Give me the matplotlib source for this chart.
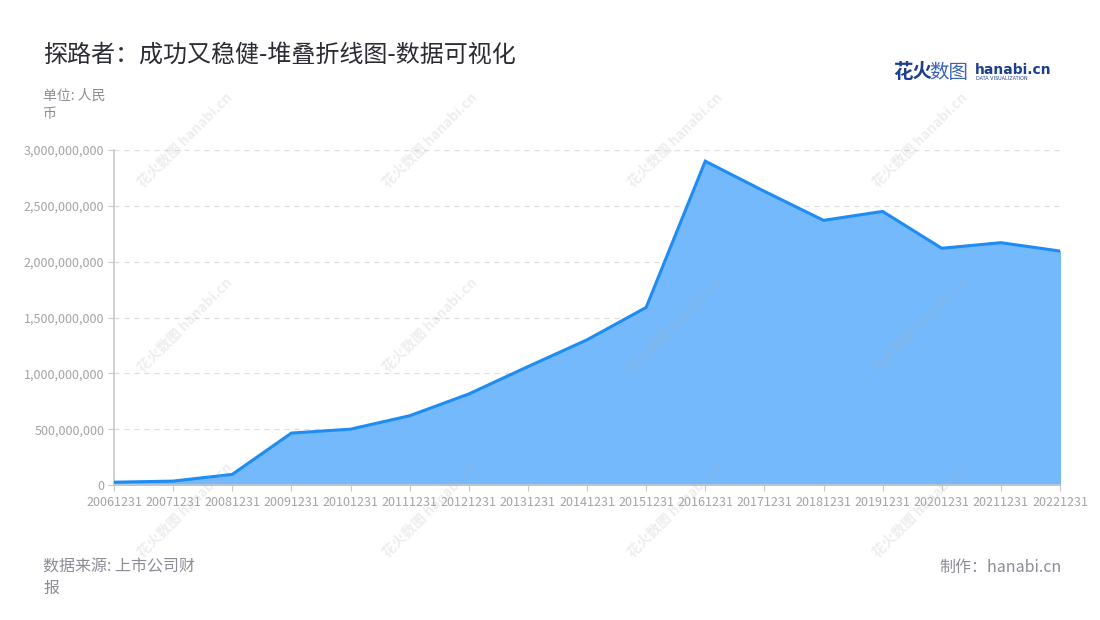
import numpy as np
import matplotlib.pyplot as plt
from matplotlib.ticker import FuncFormatter

plt.rcParams['font.family'] = ['Noto Sans CJK SC', 'DejaVu Sans']

# data
dates = ['20061231', '20071231', '20081231', '20091231', '20101231', '20111231',
         '20121231', '20131231', '20141231', '20151231', '20161231', '20171231',
         '20181231', '20191231', '20201231', '20211231', '20221231']
values = [2.5e7, 3.5e7, 9.5e7, 4.65e8, 5.0e8, 6.2e8, 8.15e8, 1.06e9, 1.30e9,
          1.59e9, 2.90e9, 2.63e9, 2.37e9, 2.45e9, 2.12e9, 2.17e9, 2.095e9]
y_ticks = [0, 5e8, 1e9, 1.5e9, 2e9, 2.5e9, 3e9]

fig = plt.figure(figsize=(11, 6.2), dpi=100)
ax = fig.add_axes([114/1100, 1-485/620, (1060-114)/1100, (485-150)/620])

x = np.arange(len(dates))
ax.fill_between(x, values, 0, color='#74b9fc', zorder=2)
ax.plot(x, values, color='#1e8cf5', lw=2.2, zorder=3, solid_joinstyle='miter')

ax.set_xlim(0, len(dates)-1)
ax.set_ylim(0, 3e9)
ax.set_xticks(x)
ax.set_xticklabels(dates)
ax.set_yticks(y_ticks)
ax.yaxis.set_major_formatter(FuncFormatter(lambda v, p: f'{int(v):,}'))
ax.tick_params(axis='both', colors='#c8c8c8', labelcolor='#a3a3a8', labelsize=9, length=4)
ax.tick_params(axis='x', pad=4)
ax.tick_params(axis='y', pad=3)
ax.grid(axis='y', ls=(0, (4, 4)), color='#dcdcdc', lw=0.9, zorder=1)
for s in ['top', 'right']:
    ax.spines[s].set_visible(False)
ax.spines['left'].set_color('#c8c8c8')
ax.spines['bottom'].set_color('#c8c8c8')
ax.spines['left'].set_linewidth(1.2)
ax.spines['bottom'].set_linewidth(1.2)

# faint watermarks
for wx in [185, 430, 675, 920]:
    for wy in [140, 325, 510]:
        fig.text(wx/1100, 1-wy/620, '花火数图 hanabi.cn', rotation=45, fontsize=10,
                 color='#b0b0b0', alpha=0.22, ha='center', va='center',
                 fontweight='bold')

fig.text(43/1100, 1-55/620, '探路者：成功又稳健-堆叠折线图-数据可视化', fontsize=17.3,
         color='#2b2b33', va='center')
fig.text(43/1100, 1-96/620, '单位: 人民', fontsize=10, color='#8c8c96', va='center')
fig.text(43/1100, 1-114/620, '币', fontsize=10, color='#8c8c96', va='center')
fig.text(43/1100, 1-567/620, '数据来源: 上市公司财', fontsize=11.5, color='#8c8c96', va='center')
fig.text(43/1100, 1-588/620, '报', fontsize=11.5, color='#8c8c96', va='center')
fig.text(1062/1100, 1-567/620, '制作：hanabi.cn', fontsize=11.5, color='#8c8c96',
         va='center', ha='right')

# logo
fig.text(893/1100, 1-72/620, '花火', fontsize=14, color='#1d3f8f', va='center',
         fontweight='bold')
fig.text(929/1100, 1-72/620, '数图', fontsize=14, color='#3a62b8', va='center')
fig.text(975/1100, 1-70/620, 'hanabi.cn', fontsize=10, color='#1d3f8f', va='center',
         fontweight='bold', family=['DejaVu Sans'])
fig.text(976/1100, 1-79/620, 'DATA VISUALIZATION', fontsize=3.5, color='#1d3f8f',
         va='center', family=['DejaVu Sans'])

fig.savefig('out.png', dpi=100)
